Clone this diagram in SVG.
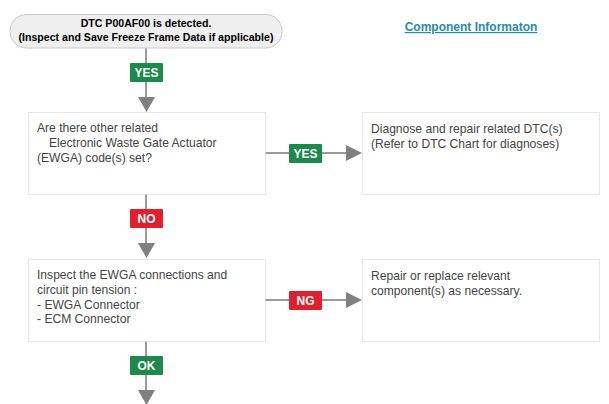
<svg xmlns="http://www.w3.org/2000/svg" width="609" height="404" viewBox="0 0 609 404">
<defs>
<style>
.box{fill:#fff;stroke:#cfcfcf;stroke-width:1;stroke-dasharray:1 1}
.txt{font-family:"Liberation Sans",Arial,sans-serif;font-size:12.1px;fill:#444}
.bt{font-family:"Liberation Sans",Arial,sans-serif;font-size:10.6px;font-weight:bold;fill:#000;text-anchor:middle}
.lbl{font-family:"Liberation Sans",Arial,sans-serif;font-size:12px;font-weight:bold;fill:#fff;text-anchor:middle}
.ln{stroke:#7a7a7a;stroke-width:1.5;fill:none}
.ah{fill:#808080}
.g{fill:#1d8a4c}
.r{fill:#e0202e}
</style>
</defs>
<rect width="609" height="404" fill="#fff"/>
<g id="connectors">
<line class="ln" x1="146" y1="48" x2="146" y2="98"/>
<polygon class="ah" points="138,97 155,97 146.5,112"/>
<line class="ln" x1="146" y1="194" x2="146" y2="244"/>
<polygon class="ah" points="138,243 155,243 146.5,258"/>
<line class="ln" x1="146" y1="341" x2="146" y2="391"/>
<polygon class="ah" points="138,390 155,390 146.5,405"/>
<line class="ln" x1="265" y1="153" x2="347" y2="153"/>
<polygon class="ah" points="346,145 346,161 362,153"/>
<line class="ln" x1="265" y1="300" x2="347" y2="300"/>
<polygon class="ah" points="346,292 346,308 362,300"/>
<g id="lbl-yes1"><rect class="g" x="130" y="63" width="33" height="19" rx="1"/><text class="lbl" x="146.5" y="77">YES</text></g>
<g id="lbl-yes2"><rect class="g" x="289" y="144" width="33" height="19" rx="1"/><text class="lbl" x="305.5" y="158">YES</text></g>
<g id="lbl-no"><rect class="r" x="130" y="209" width="33" height="19" rx="1"/><text class="lbl" x="146.5" y="223">NO</text></g>
<g id="lbl-ng"><rect class="r" x="289" y="291" width="33" height="19" rx="1"/><text class="lbl" x="305.5" y="305">NG</text></g>
<g id="lbl-ok"><rect class="g" x="130" y="356" width="33" height="19" rx="1"/><text class="lbl" x="146.5" y="370">OK</text></g>
</g>
<g id="start">
<rect x="10" y="14.5" width="272" height="33.5" rx="16.5" fill="#efefef" stroke="#c8c8c8" stroke-width="1"/>
<text class="bt" x="146" y="27">DTC P00AF00 is detected.</text>
<text class="bt" x="146" y="41">(Inspect and Save Freeze Frame Data if applicable)</text>
</g>
<g id="component-info">
<text x="471" y="31" text-anchor="middle" font-family="Liberation Sans,Arial,sans-serif" font-size="12" font-weight="bold" fill="#2a8aa8" text-decoration="underline">Component Informaton</text>
</g>
<g id="q1">
<rect class="box" x="28.5" y="112.5" width="237" height="82"/>
<text class="txt" x="37" y="132">Are there other related</text>
<text class="txt" x="49" y="147">Electronic Waste Gate Actuator</text>
<text class="txt" x="37" y="162">(EWGA) code(s) set?</text>
</g>
<g id="dtc">
<rect class="box" x="362.5" y="112.5" width="237" height="82"/>
<text class="txt" x="371" y="133">Diagnose and repair related DTC(s)</text>
<text class="txt" x="371" y="148">(Refer to DTC Chart for diagnoses)</text>
</g>
<g id="inspect">
<rect class="box" x="28.5" y="259.5" width="237" height="82"/>
<text class="txt" x="37" y="279">Inspect the EWGA connections and</text>
<text class="txt" x="37" y="294">circuit pin tension :</text>
<text class="txt" x="37" y="308.5">- EWGA Connector</text>
<text class="txt" x="37" y="323">- ECM Connector</text>
</g>
<g id="repair">
<rect class="box" x="362.5" y="259.5" width="237" height="82"/>
<text class="txt" x="371" y="280">Repair or replace relevant</text>
<text class="txt" x="371" y="295">component(s) as necessary.</text>
</g>
</svg>
